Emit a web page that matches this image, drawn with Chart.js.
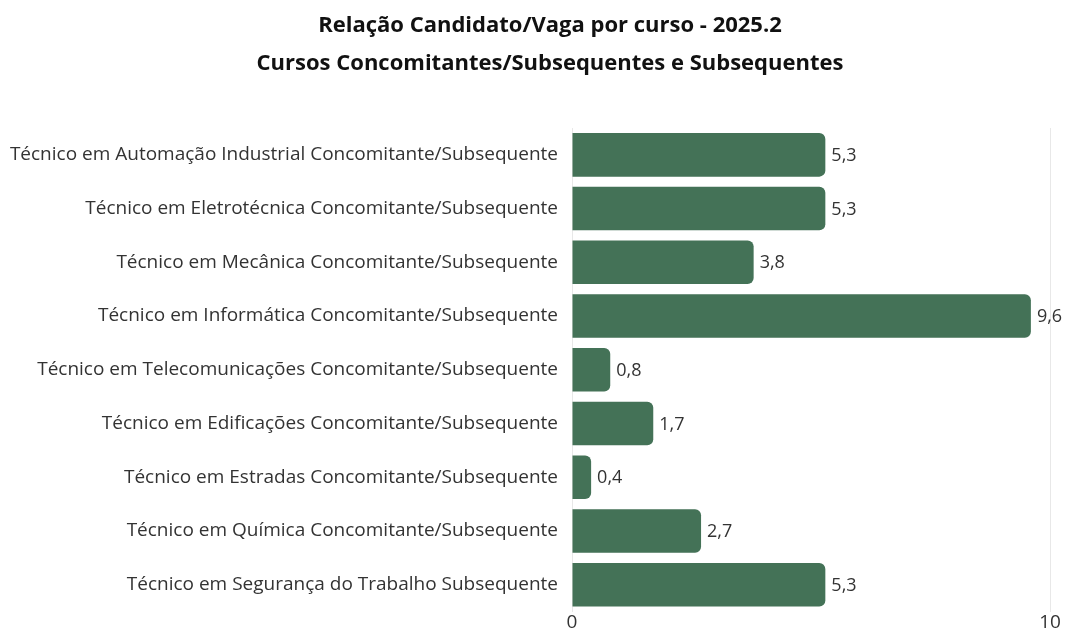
<!DOCTYPE html>
<html>
<head>
<meta charset="utf-8">
<script src="https://cdn.jsdelivr.net/npm/chart.js@4"></script>
<style>
  html, body { margin: 0; padding: 0; background: #fff; }
  #wrap { width: 1067px; height: 637px; }
</style>
</head>
<body>
<div id="wrap"><canvas id="relacaoChart"></canvas></div>
<script>
// data
const cursos = [
  "Técnico em Automação Industrial Concomitante/Subsequente",
  "Técnico em Eletrotécnica Concomitante/Subsequente",
  "Técnico em Mecânica Concomitante/Subsequente",
  "Técnico em Informática Concomitante/Subsequente",
  "Técnico em Telecomunicações Concomitante/Subsequente",
  "Técnico em Edificações Concomitante/Subsequente",
  "Técnico em Estradas Concomitante/Subsequente",
  "Técnico em Química Concomitante/Subsequente",
  "Técnico em Segurança do Trabalho Subsequente",
];
const relacao = [5.3, 5.3, 3.8, 9.6, 0.8, 1.7, 0.4, 2.7, 5.3];
const xTicks = [0, 10];
const titulo = [
  "Relação Candidato/Vaga por curso - 2025.2",
  "Cursos Concomitantes/Subsequentes e Subsequentes",
];

const fontFamily = "'Open Sans', sans-serif";

// value labels at the end of each bar
const valueLabels = {
  id: "valueLabels",
  afterDatasetsDraw(chart) {
    const ctx = chart.ctx;
    const meta = chart.getDatasetMeta(0);
    ctx.save();
    ctx.font = "18px " + fontFamily;
    ctx.fillStyle = "#333";
    ctx.textAlign = "left";
    ctx.textBaseline = "middle";
    meta.data.forEach((bar, i) => {
      const txt = relacao[i].toFixed(1).replace(".", ",");
      ctx.fillText(txt, bar.x + 6, bar.y + 1);
    });
    ctx.restore();
  },
};

// title is centred a bit right of the canvas centre in the original
const shiftTitle = {
  id: "shiftTitle",
  afterLayout(chart) {
    const t = chart.titleBlock;
    if (t) {
      t.left = 50;
      t.right = chart.chartArea.right;
    }
  },
};

new Chart(document.getElementById("relacaoChart"), {
  type: "bar",
  data: {
    labels: cursos,
    datasets: [
      {
        label: "Relação",
        data: relacao,
        backgroundColor: "#447257",
        borderRadius: 6,
        barPercentage: 0.9,
        categoryPercentage: 0.9,
      },
    ],
  },
  options: {
    indexAxis: "y",
    responsive: true,
    maintainAspectRatio: false,
    animation: false,
    layout: {
      padding: { left: 0, right: 17, top: 0, bottom: -6 },
    },
    plugins: {
      legend: { display: false },
      tooltip: { enabled: false },
      title: {
        display: true,
        text: titulo,
        color: "#111",
        font: { family: fontFamily, size: 22, weight: "bold", lineHeight: 1.75 },
        padding: { top: 6, bottom: 45 },
      },
    },
    scales: {
      x: {
        min: 0,
        max: 10,
        afterBuildTicks(scale) {
          scale.ticks = xTicks.map((v) => ({ value: v }));
        },
        grid: { color: "#e8e8e8", drawTicks: false },
        border: { display: false },
        ticks: {
          color: "#333",
          padding: 0,
          font: { family: fontFamily, size: 19 },
        },
      },
      y: {
        afterFit(scale) {
          scale.width = 572;
        },
        grid: { display: false, drawTicks: false },
        border: { color: "#e8e8e8" },
        ticks: {
          color: "#333",
          padding: 14,
          font: { family: fontFamily, size: 19 },
        },
      },
    },
  },
  plugins: [valueLabels, shiftTitle],
});
</script>
</body>
</html>
